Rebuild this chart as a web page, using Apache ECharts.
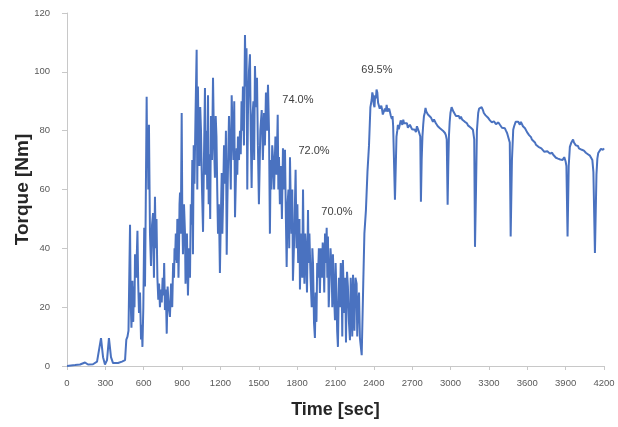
<!DOCTYPE html>
<html>
<head>
<meta charset="utf-8">
<script src="https://cdn.jsdelivr.net/npm/echarts@6/dist/echarts.min.js"></script>
<style>
html,body{margin:0;padding:0;background:#fff;}
#chart{width:618px;height:427px;}
</style>
</head>
<body>
<div id="chart"></div>
<script>
// [time (sec), torque (Nm)] — idle start
var idleSegment = [
[0,0],[63,0.3],[102,0.5],[141,1.2],[164,0.5],[203,0.6],[235,1.5],[266,9.5],[282,3],[297,0.5],
[313,2],[328,9.5],[344,3],[360,1],[399,1],[430,1.5],[454,2],[464,9],[473,10]
];
// [time (sec), torque (Nm)] — unsteady phase (74% / 72% / 70%)
var unsteadySegment = [
[481,12],[487,30],[493,48],[498,22],[504,13],[508,20],[512,29],[518,15],[524,27],[528,20],
[532,38],[541,30],[551,46],[557,28],[563,18],[571,25],[579,9],[585,14],[590,6.5],[597,20],
[604,47],[610,27],[616,55],[623,91.5],[627,70],[631,80],[636,60],[641,82],[649,45],[657,34],
[665,48],[673,52],[680,30],[688,57.5],[694,40],[700,50],[707,30],[714,22.5],[720,28],[727,20],
[734,26],[741,21.6],[748,30],[755,24],[760,35],[766,19],[773,26],[780,11],[787,27],[796,20],
[805,16.7],[814,28],[823,20],[830,35],[837,30],[841,40],[845,36],[851,45],[858,35],[863,50],
[868,45],[872,30],[876,40],[880,55],[884,59],[890,45],[897,86],[902,50],[907,38],[915,55],
[923,45],[927,28],[931,33],[938,45],[946,24],[954,40],[962,30],[968,55],[974,48],[980,70],
[985,38],[991,75],[997,62],[1005,85],[1014,107.5],[1019,60],[1024,95],[1030,75],[1036,68],[1042,88],
[1048,80],[1056,60],[1064,45.6],[1071,70],[1079,94.5],[1085,65],[1091,80],[1097,60],[1103,92],[1108,55],
[1114,72],[1120,50],[1126,85],[1134,70],[1142,98],[1150,75],[1157,64],[1163,85],[1169,78],[1175,60],
[1181,45],[1188,55],[1196,31.6],[1203,50],[1210,65.6],[1215,45],[1220,55],[1228,75],[1236,62],[1243,80],
[1249,37.8],[1254,55],[1259,67],[1267,85],[1275,72],[1281,60],[1288,92],[1295,80],[1302,70],[1308,90],
[1314,50.6],[1320,62],[1327,74],[1332,65],[1337,78],[1345,70],[1353,80],[1359,72],[1365,90],[1370,80],
[1376,95],[1384,75],[1392,112.5],[1398,95],[1404,108],[1410,60],[1415,85],[1423,100],[1431,106],[1437,80],
[1444,60.5],[1451,85],[1458,90],[1464,70],[1470,102],[1478,88],[1486,98],[1493,75],[1501,55],[1512,80],
[1523,87],[1532,70],[1541,86],[1548,75],[1556,93],[1564,80],[1572,95.6],[1580,80],[1587,45],[1593,70],
[1599,60],[1605,75],[1611,71],[1620,60],[1630,78],[1639,65],[1648,85.4],[1653,60],[1658,71],[1665,55],
[1673,68],[1681,50],[1689,74],[1697,60],[1705,73.5],[1712,50],[1718,33.7],[1725,55],[1732,60],[1738,40],
[1744,71],[1750,55],[1756,45],[1762,60],[1767,29],[1778,45],[1788,66.7],[1795,40],[1802,55],[1808,35],
[1814,40],[1818,50],[1822,26],[1828,40],[1834,45],[1840,30],[1846,60],[1851,40],[1857,28],[1863,45],
[1869,40],[1877,25],[1885,53],[1890,35],[1896,45],[1905,30],[1914,20],[1919,40],[1924,35],[1932,14.6],
[1939,9.5],[1945,25],[1951,15],[1957,35],[1963,30],[1970,40],[1978,24.8],[1986,40],[1994,30],[2000,42],
[2006,38],[2012,25],[2018,45],[2024,35],[2031,47],[2036,30],[2041,44],[2047,20],[2053,28],[2061,40],
[2070,32.6],[2075,20],[2080,38],[2088,25],[2096,15.6],[2101,35],[2107,25],[2113,12],[2119,6.5],[2127,30],
[2135,20],[2141,35],[2148,28],[2153,10],[2158,36],[2164,25],[2170,18],[2176,30],[2182,8],[2190,32],
[2197,27],[2205,15],[2213,8.8],[2219,30],[2225,20],[2231,10],[2237,31],[2243,22],[2248,12],[2256,30],
[2265,28],[2270,10],[2276,20],[2284,25],[2291,9.5],[2305,3.7]
];
// [time (sec), torque (Nm)] — steady phase (69.5%)
var steadySegment = [
[2317,28],[2326,45],[2338,53],[2350,66],[2362,75],[2373,88],[2383,90.5],[2388,93],[2393,92],[2399,89],
[2405,88],[2410,92],[2416,91],[2421,94],[2427,93],[2433,89.5],[2440,89],[2446,87.5],[2452,87],[2458,88.5],
[2463,87.5],[2470,85.5],[2479,86],[2486,87.5],[2493,86.5],[2500,88.8],[2507,86.5],[2514,86],[2520,87.5],[2526,87],
[2533,85],[2541,84],[2546,85],[2551,81.4],[2565,56.5],[2577,78],[2583,80],[2588,82],[2595,80.5],[2604,81],
[2610,83.5],[2616,83],[2623,82],[2630,83.7],[2636,82.5],[2643,82],[2651,83],[2659,82.5],[2666,81],[2674,81],
[2682,82],[2690,81.5],[2698,80.5],[2706,80],[2713,81],[2721,80.3],[2729,79.5],[2737,81.5],[2745,80.5],[2753,79.5],
[2763,78],[2768,55.8],[2774,70],[2780,78],[2786,82],[2792,85],[2798,86],[2804,87.7],[2810,86.5],[2815,86],
[2823,85.5],[2831,85],[2838,85.5],[2846,84.5],[2854,84],[2862,83],[2870,83.8],[2878,83.2],[2885,82.5],[2891,82.6],
[2900,81.5],[2909,81.5],[2917,80.8],[2925,81],[2932,80.2],[2940,80],[2948,80.5],[2956,79.2],[2963,78.5],[2970,77],
[2977,54.8],[2982,68],[2987,78],[2993,83],[2999,86],[3008,88],[3015,87.5],[3022,86.5],[3028,86.8],[3034,86],
[3042,85],[3050,85.5],[3057,84.8],[3065,85],[3073,84],[3081,84.8],[3090,83.8],[3099,84.4],[3105,83.2],[3112,83],
[3120,83.3],[3128,82.5],[3136,81.8],[3144,81.5],[3151,81.8],[3159,81],[3167,80.5],[3175,80.3],[3185,77],[3191,40.5],
[3199,60],[3206,80],[3216,86],[3223,87.5],[3230,88],[3236,87.2],[3243,88],[3253,87],[3260,86],[3266,85.5],
[3274,85.2],[3282,84.7],[3291,84.5],[3300,84],[3308,83.5],[3316,83],[3323,82.8],[3331,82.5],[3339,83.2],[3347,83],
[3355,82.2],[3363,82.5],[3374,82.8],[3386,82],[3394,81.5],[3402,81],[3410,81.3],[3417,80.5],[3425,80.8],[3433,80],
[3442,79.2],[3451,78.6],[3463,76],[3470,44],[3480,70],[3490,80.3],[3497,81.5],[3503,82],[3509,83],[3515,82.5],
[3522,83.5],[3529,83],[3535,82.5],[3542,82],[3550,83],[3558,82.5],[3566,81.5],[3574,81],[3582,80.8],[3589,80.2],
[3598,79.5],[3607,79],[3614,78.5],[3621,78],[3629,77.8],[3636,77],[3648,76.5],[3660,76],[3668,75.2],[3675,75.5],
[3687,74.5],[3699,74],[3710,74],[3722,73.5],[3734,72.8],[3746,72.5],[3757,73],[3769,72.8],[3777,72.2],[3785,72],
[3794,72.5],[3803,71.8],[3810,71.2],[3816,71.5],[3824,70.8],[3832,71.2],[3840,70.5],[3847,70.8],[3858,70.2],[3869,70.7],
[3876,70],[3883,70],[3889,71],[3894,70.5],[3900,69.5],[3906,68],[3915,44],[3924,68],[3933,74.5],[3939,75],
[3945,76],[3952,75.5],[3958,77],[3965,76],[3973,75.5],[3980,75],[3988,74.5],[3996,74.8],[4004,74],[4012,73.8],
[4019,73.5],[4027,73.5],[4035,73],[4043,73.2],[4051,72.8],[4058,72.5],[4066,72.2],[4074,72],[4082,71.6],[4090,71.5],
[4098,71],[4109,70],[4117,66],[4129,38.4],[4141,65],[4148,70.5],[4155,72.4],[4162,72.8],[4168,73],[4176,73.8],
[4184,73.2],[4192,73.5],[4200,74]
];
// Annotation labels
var noteText = ['74.0%', '72.0%', '70.0%', '69.5%'];
var noteTime = [1806, 1932, 2111, 2424];
var noteTorque = [90.5, 73, 52.4, 100.8];

var xTicks = {min: 0, max: 4200, interval: 300};
var yTicks = {min: 0, max: 120, interval: 20};

var seriesData = idleSegment.concat(unsteadySegment, steadySegment);
var notes = noteText.map(function (s, i) {
  return { coord: [noteTime[i], noteTorque[i]], value: s };
});

var chart = echarts.init(document.getElementById('chart'), null, {renderer: 'canvas'});
chart.setOption({
  backgroundColor: '#ffffff',
  animation: false,
  grid: {left: 67, right: 14, top: 13, bottom: 61, containLabel: false, outerBoundsMode: 'none'},
  xAxis: {
    type: 'value', min: xTicks.min, max: xTicks.max, interval: xTicks.interval,
    name: 'Time [sec]', nameLocation: 'middle', nameGap: 35, nameMoveOverlap: false,
    nameTextStyle: {fontFamily: 'Liberation Sans', fontWeight: 'bold', fontSize: 18, color: '#262626'},
    axisLine: {show: true, lineStyle: {color: '#c8c8c8', width: 1}},
    axisTick: {show: true, inside: false, length: 4, lineStyle: {color: '#c8c8c8'}},
    axisLabel: {margin: 12, fontFamily: 'Liberation Sans', fontSize: 9.5, color: '#595959',
                formatter: function (v) { return String(v); }},
    splitLine: {show: false}
  },
  yAxis: {
    type: 'value', min: yTicks.min, max: yTicks.max, interval: yTicks.interval,
    name: 'Torque [Nm]', nameLocation: 'middle', nameGap: 35, nameRotate: 90, nameMoveOverlap: false,
    nameTextStyle: {fontFamily: 'Liberation Sans', fontWeight: 'bold', fontSize: 19, color: '#262626'},
    axisLine: {show: true, lineStyle: {color: '#c8c8c8', width: 1}},
    axisTick: {show: true, inside: false, length: 5, lineStyle: {color: '#c8c8c8'}},
    axisLabel: {margin: 17, fontFamily: 'Liberation Sans', fontSize: 9.5, color: '#595959'},
    splitLine: {show: false}
  },
  series: [{
    type: 'line',
    data: seriesData,
    showSymbol: false,
    symbol: 'none',
    lineStyle: {color: '#4a72c0', width: 2},
    clip: true,
    markPoint: {
      symbol: 'circle', symbolSize: 0,
      label: {show: true, position: 'inside', formatter: function (p) { return p.value; },
              fontFamily: 'Liberation Sans', fontSize: 11, color: '#404040'},
      data: notes
    }
  }]
});
</script>
</body>
</html>
